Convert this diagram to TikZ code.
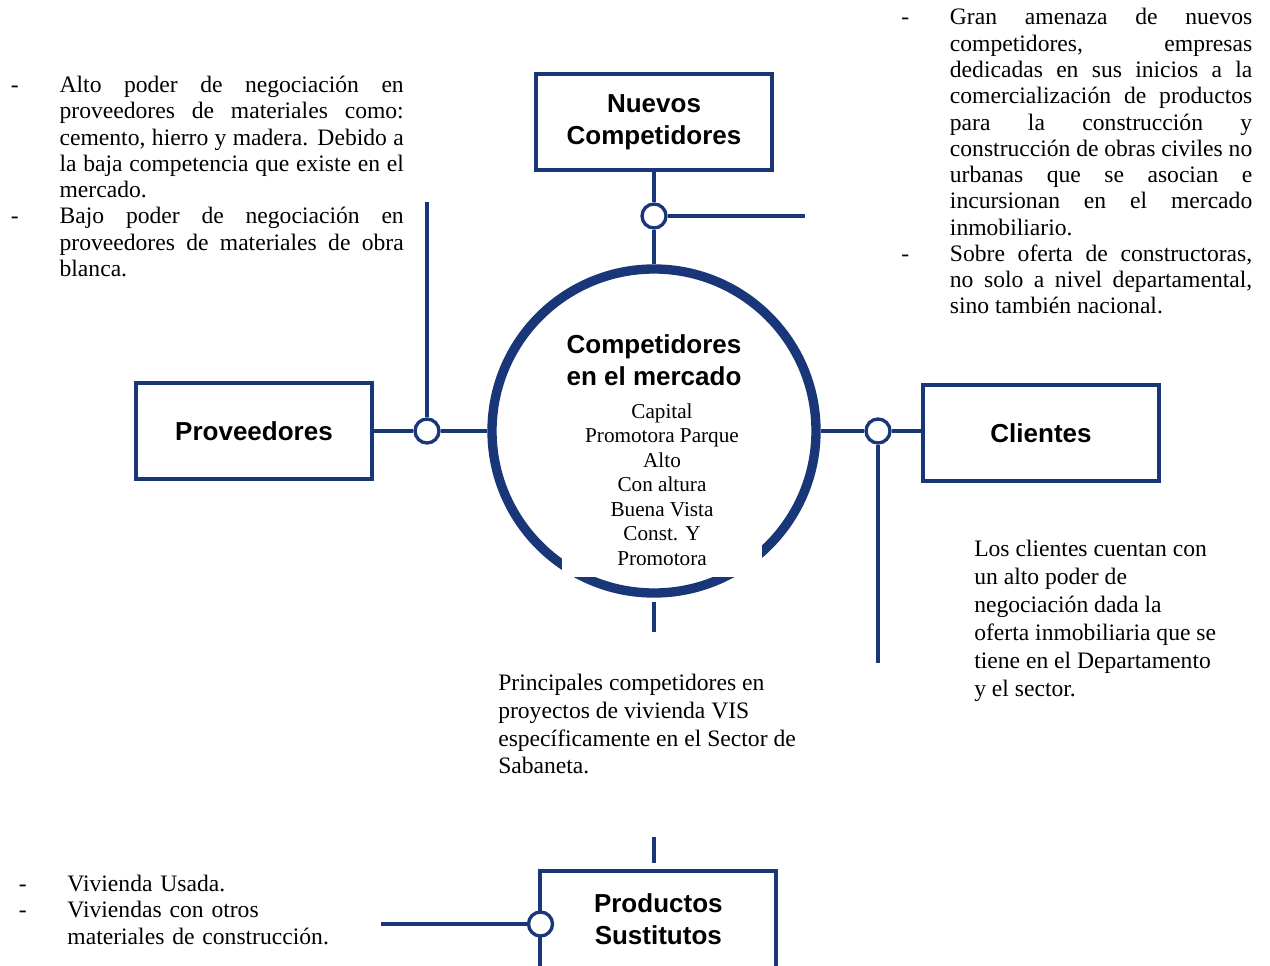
\documentclass[tikz,border=0pt]{standalone}
\usepackage{fontspec}
\setmainfont{Liberation Serif}
\setsansfont{Liberation Sans}

\definecolor{azul}{RGB}{24,54,120}
\newcommand\guion{\noindent\hangindent=36.5pt\hangafter=1\hbox to 36.5pt{-\hfil}}

\tikzset{
  caja/.style={draw=azul, line width=3pt, rectangle, minimum width=177pt, minimum height=72pt, outer sep=0pt, align=center, font=\sffamily\bfseries\fontsize{19.5}{24}\selectfont},
  nudo/.style={draw=azul, fill=white, circle, line width=2.5pt, minimum size=18pt, inner sep=0pt},
  linea/.style={draw=azul, line width=2.6pt},
  nota/.style={inner sep=0pt, anchor=base west, font=\fontsize{17.7}{19.7}\selectfont},
}

\begin{document}
\begin{tikzpicture}[x=0.75pt, y=-0.75pt]
\path[fill=white, use as bounding box] (0,0) rectangle (1270,966);

% cajas
\node[caja] (nuevos) at (654,122) {Nuevos\\Competidores};
\node[caja] (proveedores) at (254,431) {Proveedores};
\node[caja] (clientes) at (1041,433) {Clientes};
\node[caja, anchor=north, minimum height=110pt] (sustitutos) at (658.3,871) {};
\node[caja, draw=none] (sustitutosTexto) at (658.3,919) {Productos\\Sustitutos};

% circulo central
\node[circle, draw=azul, line width=7pt, minimum size=243pt, inner sep=0pt] (mercado) at (654,431) {};
\fill[white] (562,530) rectangle (762,577);
\node[caja, draw=none, minimum width=0pt, minimum height=0pt, inner sep=0pt, anchor=base] (mercadoTitulo) at (654,385) {Competidores\\en el mercado};
\node[align=center, inner sep=0pt, anchor=base, font=\fontsize{15.9}{18.35}\selectfont] (mercadoLista) at (662,565) {Capital\\Promotora Parque\\Alto\\Con altura\\Buena Vista\\Const. Y\\Promotora};

% nudos
\node[nudo] (nudoN) at (654,216) {};
\node[nudo] (nudoP) at (427,431) {};
\node[nudo] (nudoC) at (878,431) {};
\node[nudo] (nudoS) at (540.5,924) {};

\coordinate (finN) at (805,216);
\coordinate (finP) at (427,202);
\coordinate (finC) at (878,663);
\coordinate (finM) at (654,632);
\coordinate (iniS) at (654,837);
\coordinate (finS) at (381,924);

\draw[linea] (nuevos.south) -- (nudoN.north);
\draw[linea] (nudoN.south) -- (mercado.north);
\draw[linea] (nudoN.east) -- (finN);
\draw[linea] (proveedores.east) -- (nudoP.west);
\draw[linea] (nudoP.east) -- (mercado.west);
\draw[linea] (nudoP.north) -- (finP);
\draw[linea] (mercado.east) -- (nudoC.west);
\draw[linea] (nudoC.east) -- (clientes.west |- nudoC);
\draw[linea] (nudoC.south) -- (finC);
\draw[linea, shorten <=3pt] (mercado.south) -- (finM);
\draw[linea, shorten >=6pt] (iniS) -- (iniS |- sustitutos.north);
\draw[linea] (nudoS.west) -- (finS);

% notas
\node[nota, text width=294.6pt, align=justify] (notaProv) at (10.7,92.5) {\guion Alto poder de negociación en\linebreak proveedores de materiales como:\linebreak cemento, hierro y madera. Debido a\linebreak la baja competencia que existe en el\linebreak mercado.\par
\guion Bajo poder de negociación en\linebreak proveedores de materiales de obra\linebreak blanca.\par};
\node[nota, text width=263.25pt, align=justify] (notaNuevos) at (901,25) {\guion Gran amenaza de nuevos\linebreak competidores, empresas\linebreak dedicadas en sus inicios a la\linebreak comercialización de productos\linebreak para la construcción y\linebreak construcción de obras civiles no\linebreak urbanas que se asocian e\linebreak incursionan en el mercado\linebreak inmobiliario.\par
\guion Sobre oferta de constructoras,\linebreak no solo a nivel departamental,\linebreak sino también nacional.\par};
\node[nota, align=left, font=\fontsize{17.7}{20.8}\selectfont] (notaMercado) at (498,773.8) {Principales competidores en\\proyectos de vivienda VIS\\específicamente en el Sector de\\Sabaneta.};
\node[nota, align=left, font=\fontsize{17.7}{21}\selectfont] (notaClientes) at (974,696) {Los clientes cuentan con\\un alto poder de\\negociación dada la\\oferta inmobiliaria que se\\tiene en el Departamento\\y el sector.};
\node[nota, text width=300pt, align=left, font=\fontsize{17.7}{19.9}\selectfont] (notaSustitutos) at (18.5,891) {\guion Vivienda Usada.\par
\guion Viviendas con otros\break materiales de construcción.\par};
\end{tikzpicture}
\end{document}
